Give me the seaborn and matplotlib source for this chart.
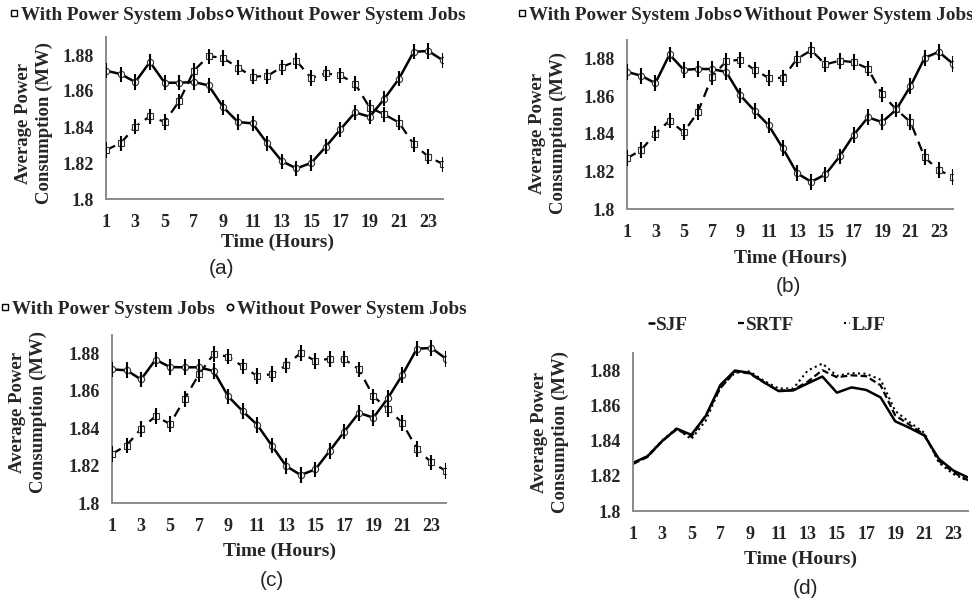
import matplotlib
matplotlib.use("Agg")
import matplotlib.pyplot as plt
import seaborn as sns
import numpy as np
import pandas as pd
from matplotlib.lines import Line2D

# ---------------- data ----------------
hours = list(range(1, 25))
xticks = list(range(1, 24, 2))
yticks = [1.80, 1.82, 1.84, 1.86, 1.88]
ytick_labels = ["1.8", "1.82", "1.84", "1.86", "1.88"]
err = 0.0042

a_with = [1.8272, 1.8310, 1.8402, 1.8460, 1.8428, 1.8544, 1.8713, 1.8794, 1.8783, 1.8730, 1.8680, 1.8683,
          1.8733, 1.8767, 1.8672, 1.8698, 1.8687, 1.8641, 1.8507, 1.8470, 1.8424, 1.8304, 1.8235, 1.8194]
a_without = [1.8713, 1.8694, 1.8650, 1.8761, 1.8646, 1.8646, 1.8650, 1.8631, 1.8510, 1.8428, 1.8420, 1.8310,
             1.8210, 1.8170, 1.8200, 1.8290, 1.8387, 1.8481, 1.8457, 1.8557, 1.8669, 1.8818, 1.8822, 1.8770]

b_with = [1.8270, 1.8314, 1.8402, 1.8471, 1.8409, 1.8516, 1.8705, 1.8787, 1.8795, 1.8741, 1.8698, 1.8698,
          1.8800, 1.8845, 1.8770, 1.8790, 1.8782, 1.8748, 1.8610, 1.8530, 1.8463, 1.8275, 1.8207, 1.8171]
b_without = [1.8730, 1.8710, 1.8670, 1.8823, 1.8741, 1.8746, 1.8745, 1.8730, 1.8605, 1.8523, 1.8445, 1.8323,
             1.8190, 1.8145, 1.8184, 1.8280, 1.8395, 1.8488, 1.8463, 1.8530, 1.8654, 1.8805, 1.8837, 1.8773]

c_with = [1.8263, 1.8308, 1.8398, 1.8465, 1.8423, 1.8558, 1.8691, 1.8798, 1.8784, 1.8732, 1.8680, 1.8690,
          1.8737, 1.8805, 1.8761, 1.8773, 1.8770, 1.8716, 1.8571, 1.8505, 1.8428, 1.8290, 1.8217, 1.8172]
c_without = [1.8716, 1.8711, 1.8662, 1.8768, 1.8728, 1.8727, 1.8727, 1.8707, 1.8571, 1.8492, 1.8419, 1.8308,
             1.8197, 1.8150, 1.8180, 1.8280, 1.8383, 1.8483, 1.8457, 1.8562, 1.8687, 1.8827, 1.8830, 1.8773]

d_sjf = [1.8274, 1.8312, 1.8398, 1.8469, 1.8434, 1.8542, 1.8718, 1.8800, 1.8787, 1.8733, 1.8683, 1.8687,
         1.8727, 1.8766, 1.8674, 1.8704, 1.8690, 1.8647, 1.8511, 1.8473, 1.8430, 1.8297, 1.8230, 1.8191]
d_srtf = [1.8268, 1.8308, 1.8398, 1.8465, 1.8423, 1.8545, 1.8700, 1.8795, 1.8784, 1.8732, 1.8685, 1.8690,
          1.8737, 1.8802, 1.8762, 1.8773, 1.8768, 1.8716, 1.8545, 1.8490, 1.8435, 1.8285, 1.8220, 1.8175]
d_ljf = [1.8270, 1.8314, 1.8402, 1.8471, 1.8409, 1.8516, 1.8705, 1.8787, 1.8795, 1.8741, 1.8698, 1.8698,
         1.8800, 1.8840, 1.8770, 1.8785, 1.8782, 1.8748, 1.8570, 1.8505, 1.8445, 1.8275, 1.8210, 1.8171]

panel_names = ["(a)", "(b)", "(c)", "(d)"]
legend_pair = ["With Power System Jobs", "Without Power System Jobs"]
legend_d = ["SJF", "SRTF", "LJF"]
xlabel = "Time (Hours)"
ylabel = "Average Power\nConsumption (MW)"

# ---------------- style ----------------
sns.set_theme(style="white")
plt.rcParams["font.family"] = ["Liberation Serif", "DejaVu Serif"]
plt.rcParams["font.weight"] = "bold"

W, H = 972, 602
fig = plt.figure(figsize=(W / 100, H / 100), dpi=100)


def fx(px):
    return px / W


def fy(py):
    return 1 - py / H


def make_axes(left, right, top, bottom):
    return fig.add_axes([fx(left), fy(bottom), (right - left) / W, (bottom - top) / H])


SPINE = "#8a8a8a"
TICKFS = 13
LABFS = 13.5
LEGFS = 13.8


def style_axes(ax):
    ax.set_xlim(1, 24)
    ax.set_ylim(1.8, 1.89)
    ax.set_xticks(xticks)
    ax.set_yticks(yticks)
    ax.set_yticklabels(ytick_labels)
    for s in ["top", "right"]:
        ax.spines[s].set_visible(False)
    for s in ["left", "bottom"]:
        ax.spines[s].set_color(SPINE)
        ax.spines[s].set_linewidth(1.4)
    ax.tick_params(axis="x", length=0, pad=11, labelsize=TICKFS)
    ax.tick_params(axis="y", length=0, pad=9, labelsize=TICKFS)
    for t in ax.get_xticklabels() + ax.get_yticklabels():
        t.set_fontweight("bold")
    ax.set_xlabel("")
    ax.set_ylabel("")
    ax.grid(False)
    ax.set_facecolor("white")


def draw_pair(ax, with_vals, without_vals):
    df = pd.DataFrame({"hour": hours, "with": with_vals, "without": without_vals})
    sns.lineplot(data=df, x="hour", y="with", ax=ax, color="black", linewidth=1.6,
                 dashes=False, linestyle=(0, (4.5, 3)), marker="s", markersize=4.5,
                 markerfacecolor="white", markeredgecolor="#333333", markeredgewidth=0.8, zorder=3)
    sns.lineplot(data=df, x="hour", y="without", ax=ax, color="black", linewidth=1.8,
                 marker="o", markersize=4.5, markerfacecolor="white",
                 markeredgecolor="#333333", markeredgewidth=0.8, zorder=3)
    ax.errorbar(df["hour"], df["with"], yerr=err, fmt="none", ecolor="black",
                elinewidth=1.5, capsize=0, zorder=4)
    ax.errorbar(df["hour"], df["without"], yerr=err, fmt="none", ecolor="black",
                elinewidth=1.5, capsize=0, zorder=4)


def pair_legend(ax, cx, cy, gap):
    handles = [
        Line2D([], [], linestyle="none", marker="s", markersize=4.5, markerfacecolor="white",
               markeredgecolor="black", markeredgewidth=1.0),
        Line2D([], [], linestyle="none", marker="o", markersize=4.5, markerfacecolor="white",
               markeredgecolor="black", markeredgewidth=1.2),
    ]
    leg = ax.legend(handles, legend_pair, loc="center", bbox_to_anchor=(fx(cx), fy(cy)),
                    bbox_transform=fig.transFigure, ncol=2, frameon=False,
                    handlelength=0.4, handletextpad=0.15, columnspacing=gap,
                    prop={"family": ["Liberation Serif"], "weight": "bold", "size": LEGFS})
    return leg


def texts(cx_label, y_label_y, ylab_cx, ylab_cy, pname_x, pname_y):
    fig.text(fx(cx_label), fy(y_label_y), xlabel, ha="center", va="center",
             fontsize=LABFS + 0.5, fontweight="bold")
    fig.text(fx(ylab_cx), fy(ylab_cy), ylabel, ha="center", va="center", rotation=90,
             fontsize=LABFS, fontweight="bold", linespacing=1.25)
    fig.text(fx(pname_x), fy(pname_y), pname, ha="center", va="center",
             fontsize=15, fontweight="normal", family=["Liberation Sans", "DejaVu Sans"])


# ---------- panel (a) ----------
ax_a = make_axes(106, 443, 37, 199)
draw_pair(ax_a, a_with, a_without)
style_axes(ax_a)
pair_legend(ax_a, 238, 15, 0.1)
pname = panel_names[0]
texts(277, 242, 34, 123, 221, 268)

# ---------- panel (b) ----------
ax_b = make_axes(627, 953, 40, 209)
draw_pair(ax_b, b_with, b_without)
style_axes(ax_b)
pair_legend(ax_b, 746, 15, 0.1)
pname = panel_names[1]
texts(790, 258, 548, 133, 788, 287)

# ---------- panel (c) ----------
ax_c = make_axes(112, 446, 335, 503)
draw_pair(ax_c, c_with, c_without)
style_axes(ax_c)
pair_legend(ax_c, 234, 309, 0.6)
pname = panel_names[2]
texts(279, 551, 28, 412, 272, 580)

# ---------- panel (d) ----------
ax_d = make_axes(633, 968, 353, 511)
df_d = pd.DataFrame({"hour": hours, "SJF": d_sjf, "SRTF": d_srtf, "LJF": d_ljf})
sns.lineplot(data=df_d, x="hour", y="SJF", ax=ax_d, color="black", linewidth=1.8, label=legend_d[0])
sns.lineplot(data=df_d, x="hour", y="SRTF", ax=ax_d, color="black", linewidth=1.6,
             linestyle=(0, (3, 1.5)), label=legend_d[1])
sns.lineplot(data=df_d, x="hour", y="LJF", ax=ax_d, color="black", linewidth=1.5,
             linestyle=(0, (1, 1.6)), label=legend_d[2])
style_axes(ax_d)
ax_d.legend(loc="center", bbox_to_anchor=(fx(767), fy(325)), bbox_transform=fig.transFigure,
            ncol=3, frameon=False, handlelength=0.3, handletextpad=0.1, columnspacing=2.6,
            prop={"family": ["Liberation Serif"], "weight": "bold", "size": LEGFS})
pname = panel_names[3]
texts(800, 559, 550, 432, 805, 588)

fig.savefig("out.png", dpi=100, facecolor="white")
